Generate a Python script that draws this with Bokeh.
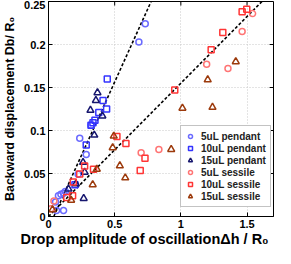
from bokeh.plotting import figure
from bokeh.models import FixedTicker, Range1d, Legend, LegendItem, Title
from bokeh.embed import file_html
from bokeh.resources import INLINE

FONT = "Liberation Sans"

p5_x = [0.731, 0.683, 0.236, 0.285, 0.322, 0.224, 0.114, 0.075, 0.094, 0.053, 0.061, 0.114, 0.127]
p5_y = [0.224, 0.203, 0.091, 0.072, 0.106, 0.049, 0.027, 0.024, 0.026, 0.017, 0.007, 0.007, 0.029]

p10_x = [0.444, 0.412, 0.439, 0.380, 0.351, 0.336, 0.321, 0.285, 0.200]
p10_y = [0.160, 0.135, 0.125, 0.121, 0.112, 0.109, 0.106, 0.083, 0.037]

p15_x = [0.370, 0.358, 0.317, 0.407, 0.346, 0.261, 0.273, 0.207, 0.151, 0.266]
p15_y = [0.144, 0.135, 0.1235, 0.117, 0.0947, 0.063, 0.0515, 0.038, 0.032, 0.021]

s5_x = [1.542, 1.463, 1.195, 1.356, 0.834, 0.700, 0.041, 0.020]
s5_y = [0.236, 0.215, 0.177, 0.172, 0.078, 0.074, 0.018, 0.009]

s10_x = [1.463, 1.498, 1.317, 1.229, 0.954, 0.729, 0.693, 0.517, 0.585, 0.273, 0.236, 0.187, 0.182, 0.138, 0.340]
s10_y = [0.238, 0.241, 0.214, 0.194, 0.147, 0.0676, 0.0535, 0.093, 0.085, 0.0586, 0.0495, 0.040, 0.024, 0.022, 0.055]

s15_x = [1.415, 1.203, 1.012, 1.239, 0.927, 0.493, 0.485, 0.539, 0.580, 0.365, 0.334, 0.171, 0.030]
s15_y = [0.180, 0.159, 0.126, 0.127, 0.078, 0.0935, 0.080, 0.059, 0.045, 0.055, 0.037, 0.019, 0.008]

# fitted lines: y = slope * x + intercept
pend_fit = (0.34, -0.0136)
sess_fit = (0.155, 0.0)

x_ticks = [0, 0.5, 1, 1.5]
y_ticks = [0, 0.05, 0.1, 0.15, 0.2, 0.25]

XMAX, YMAX = 1.7, 0.25
W, H = 275, 248
BL, BR, BT = 41, 2, 1
FW, FH = W - BL - BR, 213
dx = XMAX / FW   # data per pixel
dy = YMAX / FH

p = figure(width=W, height=H, output_backend="svg", toolbar_location=None,
           x_range=Range1d(0, XMAX), y_range=Range1d(0, YMAX),
           min_border_left=BL, min_border_right=BR, min_border_top=BT, min_border_bottom=0)
p.outline_line_color = "black"
p.outline_line_width = 1
p.background_fill_color = "white"
p.border_fill_color = "white"

for ax in (p.xaxis[0], p.yaxis[0]):
    ax.major_tick_in = 4
    ax.major_tick_out = 0
    ax.minor_tick_in = 0
    ax.minor_tick_out = 0
    ax.axis_line_color = "black"
    ax.major_label_text_font = FONT
    ax.major_label_text_font_style = "bold"
    ax.major_label_text_font_size = "11px"
    ax.axis_label_text_font = FONT
    ax.axis_label_text_font_style = "bold"
    ax.axis_label_text_color = "black"
    ax.major_label_text_color = "black"
p.xaxis[0].ticker = FixedTicker(ticks=x_ticks)
p.yaxis[0].ticker = FixedTicker(ticks=y_ticks)
p.xaxis[0].major_label_overrides = {0: "0", 0.5: "0.5", 1: "1", 1.5: "1.5"}
p.yaxis[0].major_label_overrides = {0: "0", 0.05: "0.05", 0.1: "0.1", 0.15: "0.15", 0.2: "0.2", 0.25: "0.25"}
p.xaxis[0].major_label_standoff = 3
p.xaxis[0].major_label_text_line_height = 0.65
p.xaxis[0].axis_label = None
p.xaxis[0].axis_label_standoff = 0
p.yaxis[0].axis_label = "Backward displacement Db/ R₀"
p.yaxis[0].axis_label_text_font_size = "12.5px"
p.yaxis[0].axis_label_standoff = 4
p.yaxis[0].major_label_standoff = 3

# x axis title, placed as a title below the axis so it can sit left of centre
xt = Title(text="Drop amplitude of oscillationΔh / R₀", align="left", offset=-28,
           text_font=FONT, text_font_style="bold", text_font_size="14.5px",
           text_color="black", standoff=0, vertical_align="top", text_line_height=0.65)
p.add_layout(xt, "below")

# inward ticks on the top and right sides of the box
p.segment(x0=x_ticks, y0=[YMAX] * len(x_ticks), x1=x_ticks, y1=[YMAX - 4 * dy] * len(x_ticks),
          line_color="black", line_width=1)
p.segment(x0=[XMAX] * len(y_ticks), y0=y_ticks, x1=[XMAX - 4 * dx] * len(y_ticks), y1=y_ticks,
          line_color="black", line_width=1)

p.grid.grid_line_color = "#c8c8c8"
p.grid.grid_line_dash = "1 2"
p.xgrid.ticker = FixedTicker(ticks=x_ticks)
p.ygrid.ticker = FixedTicker(ticks=y_ticks)

# fit lines
for slope, icpt, x0 in ((pend_fit[0], pend_fit[1], 0.04), (sess_fit[0], sess_fit[1], 0.0)):
    x1 = (YMAX - icpt) / slope
    p.line([x0, x1], [slope * x0 + icpt, YMAX], line_color="black", line_width=1.6, line_dash="3 2")

series = [
    ("5uL pendant", p5_x, p5_y, "circle", "#6b6bff", 6),
    ("10uL pendant", p10_x, p10_y, "square", "#3434ff", 6),
    ("15uL pendant", p15_x, p15_y, "triangle", "#16166e", 7),
    ("5uL sessile", s5_x, s5_y, "circle", "#ff7575", 6),
    ("10uL sessile", s10_x, s10_y, "square", "#ff3535", 6),
    ("15uL sessile", s15_x, s15_y, "triangle", "#9c3a0c", 7),
]
items = []
for name, xs, ys, marker, col, sz in series:
    r = p.scatter(xs, ys, marker=marker, size=sz, line_color=col, line_width=1.5,
                  fill_color="white", fill_alpha=0.0)
    items.append(LegendItem(label=name, renderers=[r]))

legend = Legend(items=items, location=(132, 9))
legend.label_text_font = FONT
legend.label_text_font_size = "10px"
legend.label_text_font_style = "bold"
legend.label_text_color = "#222222"
legend.label_height = 12
legend.glyph_height = 10
legend.glyph_width = 10
legend.label_standoff = 6
legend.spacing = 0
legend.padding = 4
legend.margin = 0
legend.border_line_color = "#888888"
legend.border_line_width = 1
legend.background_fill_alpha = 1.0
p.add_layout(legend, "center")

open("out.html", "w").write(file_html(p, INLINE))
